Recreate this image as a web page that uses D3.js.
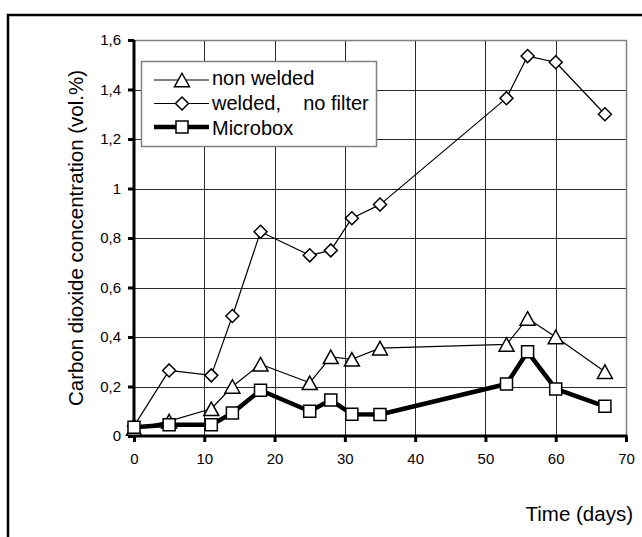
<!DOCTYPE html>
<html>
<head>
<meta charset="utf-8">
<script src="https://cdn.jsdelivr.net/npm/d3@7"></script>
<style>
  body { margin: 0; background: #fff; }
  svg { display: block; font-family: "Liberation Sans", Arial, sans-serif; }
</style>
</head>
<body>
<svg id="chart" width="642" height="537"></svg>
<script>
// data
const days = [0, 5, 11, 14, 18, 25, 28, 31, 35, 53, 56, 60, 67];
const nonWelded = [0.03, 0.06, 0.11, 0.20, 0.29, 0.215, 0.32, 0.31, 0.355, 0.37, 0.475, 0.40, 0.26];
const weldedNoFilter = [0.04, 0.265, 0.245, 0.485, 0.825, 0.73, 0.75, 0.88, 0.935, 1.365, 1.535, 1.51, 1.30];
const microbox = [0.035, 0.045, 0.045, 0.093, 0.185, 0.10, 0.145, 0.088, 0.087, 0.21, 0.34, 0.19, 0.12];

const xTicks = [0, 10, 20, 30, 40, 50, 60, 70];
const yTicks = [0, 0.2, 0.4, 0.6, 0.8, 1, 1.2, 1.4, 1.6];
const seriesNames = ['non welded', 'welded,    no filter', 'Microbox'];

// custom marker shapes, centred on the bounding box
const triangle = {
  draw(ctx, size) {
    const w = Math.sqrt(size) / 2, h = w * 0.9;
    ctx.moveTo(0, -h); ctx.lineTo(w, h); ctx.lineTo(-w, h); ctx.closePath();
  }
};
const diamond = {
  draw(ctx, size) {
    const r = Math.sqrt(size) / 2;
    ctx.moveTo(0, -r); ctx.lineTo(r, 0); ctx.lineTo(0, r); ctx.lineTo(-r, 0); ctx.closePath();
  }
};
const square = {
  draw(ctx, size) {
    const r = Math.sqrt(size) / 2;
    ctx.rect(-r, -r, 2 * r, 2 * r);
  }
};

const series = [
  { name: seriesNames[1], values: weldedNoFilter, symbol: diamond, size: 13 * 13, width: 1.2 },
  { name: seriesNames[0], values: nonWelded, symbol: triangle, size: 15 * 15, width: 1.2 },
  { name: seriesNames[2], values: microbox, symbol: square, size: 12 * 12, width: 4.5 }
];

const svg = d3.select('#chart');

// outer frame
svg.append('path')
  .attr('d', 'M8,537 V15 H642')
  .attr('fill', 'none')
  .attr('stroke', '#000')
  .attr('stroke-width', 2.5);

const x = d3.scaleLinear().domain([0, 70]).range([134, 626]);
const y = d3.scaleLinear().domain([0, 1.6]).range([436, 40]);

// gridlines
const grid = svg.append('g');
grid.selectAll('.vg').data(xTicks.slice(1, -1)).join('line')
  .attr('x1', d => Math.round(x(d)) + 0.5).attr('x2', d => Math.round(x(d)) + 0.5)
  .attr('y1', y(1.6)).attr('y2', y(0))
  .attr('stroke', '#2a2a2a').attr('stroke-width', 1);
grid.selectAll('.hg').data(yTicks.slice(1, -1)).join('line')
  .attr('x1', x(0)).attr('x2', x(70))
  .attr('y1', d => Math.round(y(d)) + 0.5).attr('y2', d => Math.round(y(d)) + 0.5)
  .attr('stroke', '#2a2a2a').attr('stroke-width', 1);

// plot frame (top and right)
svg.append('path')
  .attr('d', `M${x(0)},${Math.round(y(1.6)) + 0.5} H${Math.round(x(70)) + 0.5} V${y(0)}`)
  .attr('fill', 'none')
  .attr('stroke', '#808080')
  .attr('stroke-width', 1.5);

// axes
const fmt = d => String(d).replace('.', ',');
const xAxis = svg.append('g')
  .attr('transform', `translate(0,${y(0)})`)
  .call(d3.axisBottom(x).tickValues(xTicks).tickSize(6).tickPadding(11).tickSizeOuter(0));
const yAxis = svg.append('g')
  .attr('transform', `translate(${x(0)},0)`)
  .call(d3.axisLeft(y).tickValues(yTicks).tickFormat(fmt).tickSize(6).tickPadding(7).tickSizeOuter(0));

[xAxis, yAxis].forEach(a => {
  a.select('.domain').attr('stroke', '#000').attr('stroke-width', 3);
  a.selectAll('.tick line').attr('stroke', '#000').attr('stroke-width', 3);
  a.selectAll('.tick text')
    .attr('fill', '#000')
    .style('font-family', '"Liberation Sans", Arial, sans-serif')
    .style('font-size', '15px');
});
xAxis.select('.domain').attr('d', `M${x(0) - 1.5},0H${x(70) + 1.5}`);
yAxis.select('.domain').attr('d', `M0,${y(0) + 1.5}V${y(1.6)}`);

// axis titles
svg.append('text')
  .attr('transform', `translate(83,238) rotate(-90)`)
  .attr('text-anchor', 'middle')
  .style('font-size', '20.5px')
  .text('Carbon dioxide concentration (vol.%)');

svg.append('text')
  .attr('x', 633).attr('y', 521)
  .attr('text-anchor', 'end')
  .style('font-size', '20.5px')
  .text('Time (days)');

// series
const line = d3.line().x(d => x(d[0])).y(d => y(d[1]));
series.forEach(s => {
  const pts = days.map((d, i) => [d, s.values[i]]);
  const g = svg.append('g');
  g.append('path')
    .attr('d', line(pts))
    .attr('fill', 'none')
    .attr('stroke', '#000')
    .attr('stroke-width', s.width)
    .attr('stroke-linejoin', 'round');
  g.selectAll('path.mk').data(pts).join('path')
    .attr('class', 'mk')
    .attr('transform', d => `translate(${x(d[0])},${y(d[1])})`)
    .attr('d', d3.symbol().type(s.symbol).size(s.size))
    .attr('fill', '#fff')
    .attr('stroke', '#000')
    .attr('stroke-width', 1.5);
});

// legend
const legend = svg.append('g');
legend.append('rect')
  .attr('x', 141.5).attr('y', 61.5).attr('width', 235).attr('height', 85)
  .attr('fill', '#fff')
  .attr('stroke', '#808080')
  .attr('stroke-width', 1.5);

const legendRows = [
  { name: seriesNames[0], symbol: triangle, size: 15 * 15, width: 1.2 },
  { name: seriesNames[1], symbol: diamond, size: 13 * 13, width: 1.2 },
  { name: seriesNames[2], symbol: square, size: 12 * 12, width: 4.5 }
];
const rowY = d3.scalePoint().domain(legendRows.map(r => r.name)).range([80, 127]);
const textY = d3.scalePoint().domain(legendRows.map(r => r.name)).range([85, 135]);

legendRows.forEach(r => {
  const cy = rowY(r.name);
  legend.append('line')
    .attr('x1', 154).attr('x2', 209).attr('y1', cy).attr('y2', cy)
    .attr('stroke', '#000').attr('stroke-width', r.width);
  legend.append('path')
    .attr('transform', `translate(182,${cy})`)
    .attr('d', d3.symbol().type(r.symbol).size(r.size))
    .attr('fill', '#fff')
    .attr('stroke', '#000')
    .attr('stroke-width', 1.5);
  legend.append('text')
    .attr('x', 212).attr('y', textY(r.name))
    .style('font-size', '20px')
    .style('white-space', 'pre')
    .text(r.name);
});
</script>
</body>
</html>
